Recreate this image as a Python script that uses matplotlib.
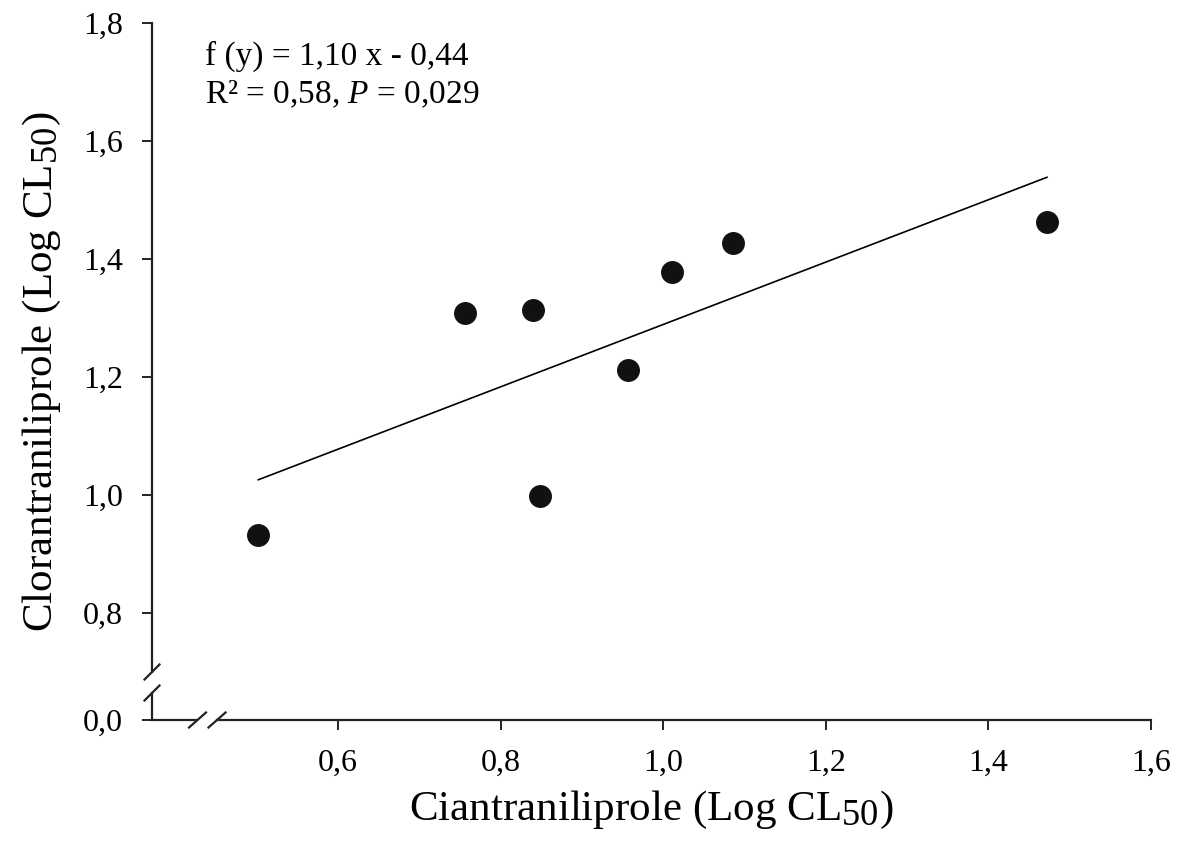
import numpy as np
import matplotlib
matplotlib.use('Agg')
import matplotlib.pyplot as plt
import matplotlib._mathtext as mt

plt.rcParams['font.family'] = 'Liberation Serif'
plt.rcParams['mathtext.fontset'] = 'custom'
plt.rcParams['mathtext.rm'] = 'Liberation Serif'
plt.rcParams['mathtext.it'] = 'Liberation Serif:italic'
mt.SHRINK_FACTOR = 0.85  # subscripts in the original are almost full size

# data (log CL50)
ciantraniliprole = [0.502, 0.756, 0.840, 0.848, 0.957, 1.011, 1.086, 1.472]
clorantraniliprole = [0.933, 1.309, 1.314, 0.998, 1.211, 1.378, 1.427, 1.463]

x_ticks = [0.6, 0.8, 1.0, 1.2, 1.4, 1.6]
x_tick_labels = ['0,6', '0,8', '1,0', '1,2', '1,4', '1,6']
y_ticks = [0.8, 1.0, 1.2, 1.4, 1.6, 1.8]
y_tick_labels = ['0,8', '1,0', '1,2', '1,4', '1,6', '1,8']
y_zero_pos = 0.6186  # where the broken axis puts "0,0"

fig = plt.figure(figsize=(11.82, 8.52), dpi=100)
ax = fig.add_axes([152 / 1182, 132 / 852, 999 / 1182, 697 / 852])

ax.plot(ciantraniliprole, clorantraniliprole, 'o', color='#111111', markersize=15.5, zorder=3)

# regression line over the data range
slope, intercept = np.polyfit(ciantraniliprole, clorantraniliprole, 1)
xl = np.array([min(ciantraniliprole), max(ciantraniliprole)])
ax.plot(xl, slope * xl + intercept, color='black', linewidth=1.2)

ax.set_xlim(0.3712, 1.6)
ax.set_ylim(y_zero_pos, 1.8)
ax.set_xticks(x_ticks)
ax.set_xticklabels(x_tick_labels)
ax.set_yticks([y_zero_pos] + y_ticks)
ax.set_yticklabels(['0,0'] + y_tick_labels)
ax.tick_params(direction='out', length=7, width=1.4, labelsize=23, pad=14, color='#222222')

for s in ['top', 'right', 'left', 'bottom']:
    ax.spines[s].set_visible(False)

# broken axes drawn by hand (axes fraction)
lw = 1.6
kw = dict(transform=ax.transAxes, color='#222222', linewidth=lw, clip_on=False)
ylo, yhi = 27 / 697, 48 / 697
xlo, xhi = 45.5 / 999, 65 / 999
dx, dy = 7.5 / 999, 7.5 / 697
ax.plot([0, 0], [0, ylo], **kw)
ax.plot([0, 0], [yhi, 1], **kw)
ax.plot([-dx, dx], [ylo - dy, ylo + dy], **kw)
ax.plot([-dx, dx], [yhi - dy, yhi + dy], **kw)
ax.plot([0, xlo], [0, 0], **kw)
ax.plot([xhi, 1], [0, 0], **kw)
ax.plot([xlo - 8.5 / 999, xlo + 8.5 / 999], [-dy, dy], **kw)
ax.plot([xhi - 8.5 / 999, xhi + 8.5 / 999], [-dy, dy], **kw)

ax.set_xlabel(r'Ciantraniliprole (Log $\mathrm{CL}_{50}$)', fontsize=31, labelpad=8)
ax.set_ylabel(r'Clorantraniliprole (Log $\mathrm{CL}_{50}$)', fontsize=31, labelpad=14)

ax.text(0.053, 0.975, 'f (y) = 1,10 x - 0,44\nR\u00b2 = 0,58, $P$ = 0,029',
        transform=ax.transAxes, fontsize=24, va='top', ha='left', linespacing=1.3)

fig.savefig('out.png', dpi=100)
